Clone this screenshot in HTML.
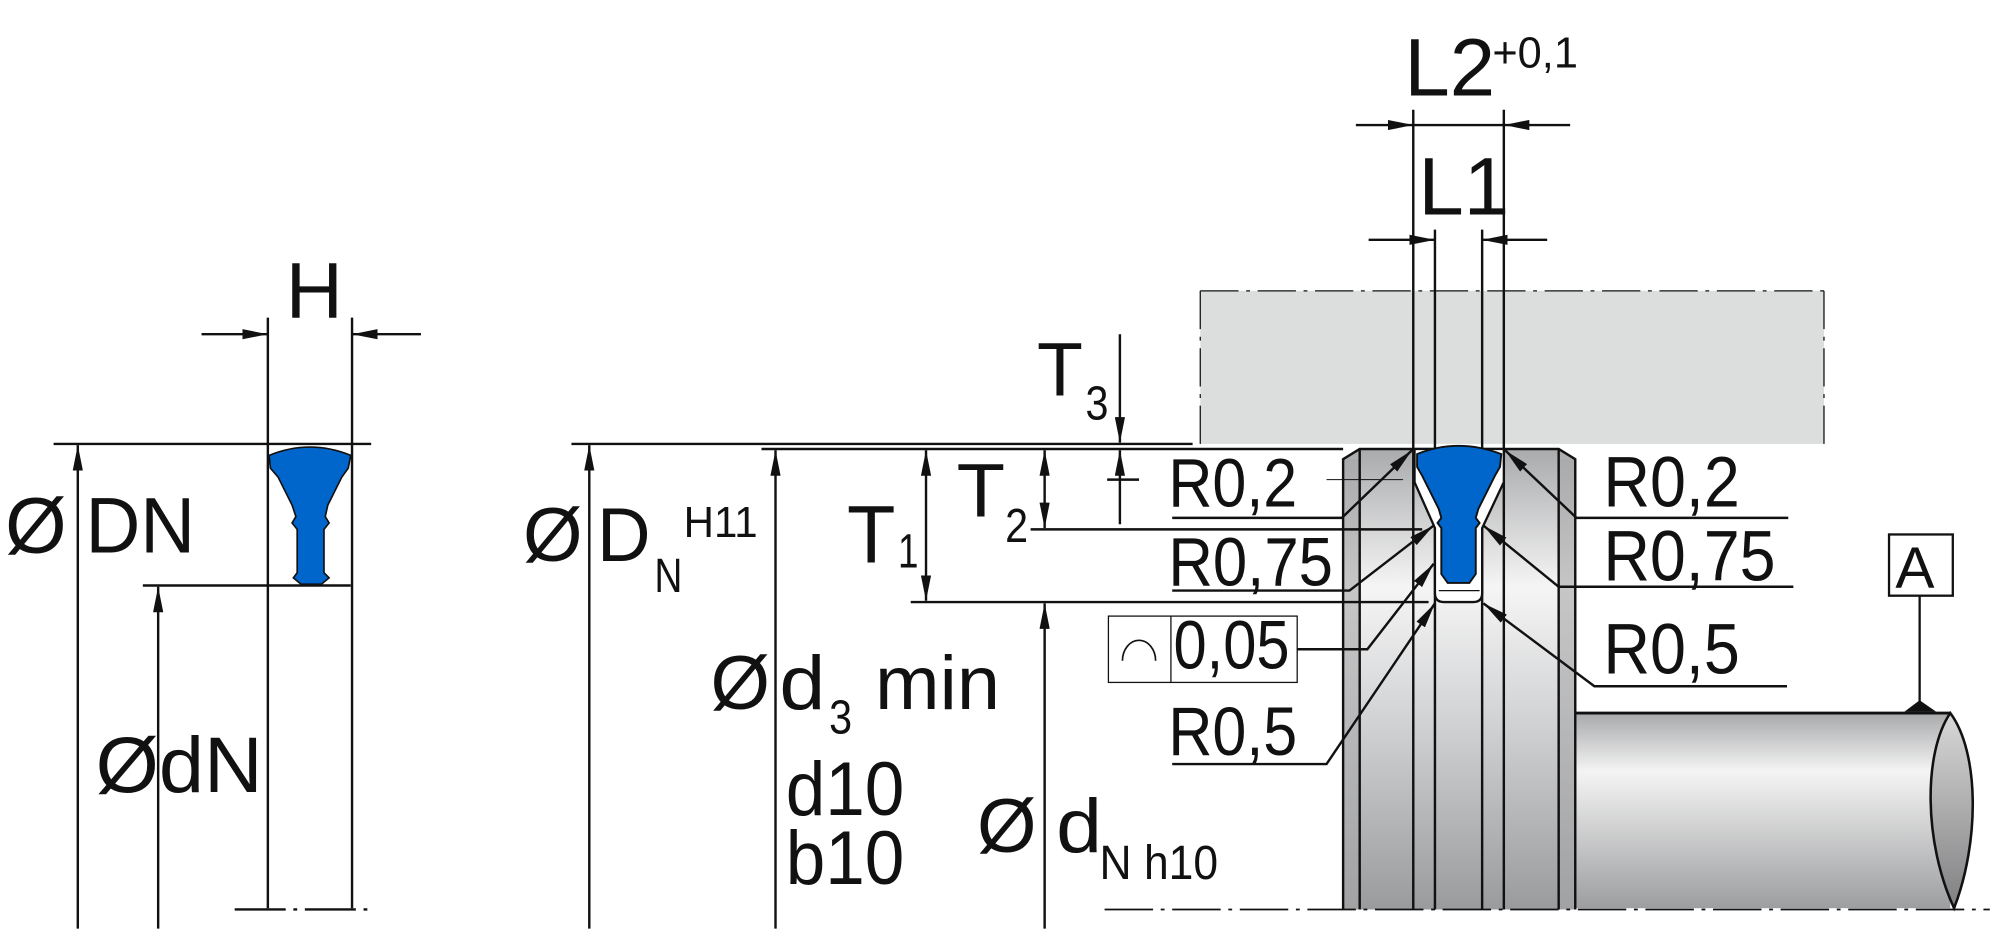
<!DOCTYPE html>
<html><head><meta charset="utf-8"><style>html,body{margin:0;padding:0;background:#fff}svg{display:block}text{font-family:"Liberation Sans",sans-serif;fill:#111}</style></head><body>
<svg width="2000" height="935" viewBox="0 0 1568 733" xmlns="http://www.w3.org/2000/svg">
<defs>
<linearGradient id="g" x1="0" y1="0" x2="0" y2="1">
<stop offset="0" stop-color="#a9aaac"/><stop offset="0.3" stop-color="#f5f5f5"/><stop offset="0.6" stop-color="#d0d1d3"/><stop offset="1" stop-color="#9a9b9d"/></linearGradient>
<linearGradient id="gs" x1="0" y1="0" x2="0" y2="1">
<stop offset="0" stop-color="#a8a9ab"/><stop offset="0.3" stop-color="#f4f4f4"/><stop offset="1" stop-color="#9d9ea0"/></linearGradient>
<linearGradient id="ge" x1="0" y1="0" x2="0" y2="1">
<stop offset="0" stop-color="#d8d8d8"/><stop offset="1" stop-color="#808082"/></linearGradient>
<marker id="a" viewBox="0 0 20 8" refX="20" refY="4" markerWidth="20" markerHeight="8" markerUnits="userSpaceOnUse" orient="auto"><path d="M0,0 L20,4 L0,8 Z" fill="#111"/></marker>
<marker id="b" viewBox="0 0 20 8" refX="0" refY="4" markerWidth="20" markerHeight="8" markerUnits="userSpaceOnUse" orient="auto"><path d="M20,0 L0,4 L20,8 Z" fill="#111"/></marker>
</defs>
<g stroke="#111" stroke-width="1.9" fill="none">
<!-- LEFT -->
<line x1="158" y1="262" x2="210" y2="262" marker-end="url(#a)"/>
<line x1="330" y1="262" x2="276" y2="262" marker-end="url(#a)"/>
<line x1="210" y1="249" x2="210" y2="712"/>
<line x1="276" y1="249" x2="276" y2="712"/>
<line x1="42" y1="348" x2="291" y2="348"/>
<line x1="112" y1="459" x2="275" y2="459"/>
<line x1="61" y1="728" x2="61" y2="349" marker-end="url(#a)"/>
<line x1="124" y1="728" x2="124" y2="460" marker-end="url(#a)"/>
<line x1="184" y1="713" x2="292" y2="713" stroke-dasharray="40 6 3 6"/>
</g>
<path d="M211,357 Q243,344 275,357 L273,367 L268,374 L257,396 L255,405 L258,410 L254,415 L254,449 L258,453 L252,458 L236,458 L230,453 L233,449 L233,415 L229,410 L232,405 L229,396 L218,374 L212,367 Z" fill="#0066cc" stroke="#111" stroke-width="1.3"/>
<text x="224" y="249" font-size="62">H</text>
<text x="4" y="433" font-size="62">Ø</text><text x="67" y="433" font-size="62" textLength="86" lengthAdjust="spacingAndGlyphs">DN</text>
<text x="75" y="621" font-size="62" textLength="131" lengthAdjust="spacingAndGlyphs">ØdN</text>

<!-- HOUSING -->
<rect x="941" y="228" width="489" height="120" fill="#dcdddd"/>
<g stroke="#111" stroke-width="1" fill="none" stroke-dasharray="30 6 3 6">
<line x1="941" y1="228" x2="1430" y2="228"/><line x1="1430" y1="228" x2="1430" y2="348"/><line x1="941" y1="228" x2="941" y2="348"/>
</g>
<!-- RINGS -->
<path d="M1053,360 L1066,352 L1222,352 L1235,360 L1235,713 L1053,713 Z" fill="url(#g)"/>
<rect x="1053" y="360" width="13" height="353" fill="#a6a7a9" opacity="0.6"/>
<rect x="1222" y="360" width="13" height="353" fill="#a6a7a9" opacity="0.6"/>
<!-- SHAFT -->
<rect x="1235" y="559" width="294" height="153" fill="url(#gs)"/>
<path d="M1529,559 C1508,590 1508,660 1532,712 C1552,660 1552,590 1529,559 Z" fill="url(#ge)" stroke="#111" stroke-width="2"/>
<line x1="1235" y1="559" x2="1529" y2="559" stroke="#111" stroke-width="2.2"/>
<path d="M1493,558 L1505,549 L1518,558 Z" fill="#111"/>
<line x1="1505" y1="467" x2="1505" y2="550" stroke="#111" stroke-width="1.8"/>
<rect x="1481" y="419" width="50" height="48" fill="#fff" stroke="#111" stroke-width="1.8"/>
<text x="1486" y="461" font-size="46">A</text>

<g stroke="#111" stroke-width="1.9" fill="none">
<path d="M1053,713 L1053,360 L1066,352 L1222,352 L1235,360 L1235,713"/>
<line x1="1066" y1="352" x2="1066" y2="713"/><line x1="1222" y1="352" x2="1222" y2="713"/>
<line x1="1108" y1="86" x2="1108" y2="713"/><line x1="1179" y1="86" x2="1179" y2="713"/>
<line x1="1125" y1="180" x2="1125" y2="713"/><line x1="1162" y1="180" x2="1162" y2="713"/>
</g>
<!-- pocket -->
<path d="M1109,352 L1109,378 L1125,414 L1125,465 Q1125,472 1132,472 L1155,472 Q1162,472 1162,465 L1162,414 L1179,378 L1179,352 Z" fill="#fff" stroke="#111" stroke-width="1.8"/>
<path d="M1111,356 Q1143,343 1177,356 L1176,366 L1172,373 L1159,399 L1157,406 L1160,410 L1157,414 L1157,450 L1152,457 L1135,457 L1130,450 L1130,414 L1127,410 L1130,406 L1128,399 L1115,373 L1111,366 Z" fill="#0066cc" stroke="#111" stroke-width="1.5"/>
<path d="M1128,463 L1160,463" stroke="#111" stroke-width="1"/>

<!-- center line -->
<line x1="866" y1="713" x2="1560" y2="713" stroke="#111" stroke-width="1.4" stroke-dasharray="38 6 3 6"/>

<g stroke="#111" stroke-width="1.9" fill="none">
<!-- L2 / L1 -->
<line x1="1063" y1="98" x2="1108" y2="98" marker-end="url(#a)"/>
<line x1="1108" y1="98" x2="1179" y2="98"/>
<line x1="1231" y1="98" x2="1179" y2="98" marker-end="url(#a)"/>
<line x1="1073" y1="188" x2="1125" y2="188" marker-end="url(#a)"/>
<line x1="1213" y1="188" x2="1162" y2="188" marker-end="url(#a)"/>
<!-- middle dims -->
<line x1="448" y1="348" x2="935" y2="348"/>
<line x1="597" y1="352" x2="1053" y2="352"/>
<line x1="808" y1="415" x2="1115" y2="415"/>
<line x1="714" y1="472" x2="1120" y2="472"/>
<line x1="462" y1="728" x2="462" y2="349" marker-end="url(#a)"/>
<line x1="608" y1="728" x2="608" y2="353" marker-end="url(#a)"/>
<line x1="726" y1="353" x2="726" y2="471" marker-start="url(#b)" marker-end="url(#a)"/>
<line x1="819" y1="353" x2="819" y2="414" marker-start="url(#b)" marker-end="url(#a)"/>
<line x1="819" y1="728" x2="819" y2="473" marker-end="url(#a)"/>
<line x1="878" y1="262" x2="878" y2="347" marker-end="url(#a)"/>
<line x1="878" y1="411" x2="878" y2="353" marker-end="url(#a)"/>
<line x1="868" y1="376" x2="893" y2="376"/>
<!-- left R leaders -->
<polyline points="919,406 1052,406 1107,353" marker-end="url(#a)"/>
<polyline points="919,463 1058,463 1124,412" marker-end="url(#a)"/>
<polyline points="1017,509 1072,509 1124,442" marker-end="url(#a)"/>
<polyline points="919,599 1040,599 1125,473" marker-end="url(#a)"/>
<!-- right R leaders -->
<polyline points="1402,406 1236,406 1180,353" marker-end="url(#a)"/>
<polyline points="1406,460 1222,460 1163,412" marker-end="url(#a)"/>
<polyline points="1401,538 1250,538 1163,473" marker-end="url(#a)"/>
</g>
<g stroke="#111" stroke-width="0.8">
<line x1="1040" y1="376" x2="1100" y2="376"/>
<line x1="1000" y1="415" x2="1110" y2="415"/>
</g>
<rect x="869" y="483" width="148" height="52" fill="#fff" stroke="#111" stroke-width="1"/>
<line x1="918" y1="483" x2="918" y2="535" stroke="#111" stroke-width="1"/>
<path d="M880,518 A13,16 0 0 1 906,518" fill="none" stroke="#111" stroke-width="1.3"/>

<!-- texts -->
<text x="1101" y="75" font-size="64">L2</text>
<text x="1170" y="53" font-size="34">+0,1</text>
<text x="1112" y="168" font-size="64">L1</text>
<text x="410" y="440" font-size="60">Ø</text>
<text x="468" y="440" font-size="60" textLength="42" lengthAdjust="spacingAndGlyphs">D</text>
<text x="513" y="464" font-size="38" textLength="22" lengthAdjust="spacingAndGlyphs">N</text>
<text x="536" y="421" font-size="34" textLength="58" lengthAdjust="spacingAndGlyphs">H11</text>
<text x="664" y="441" font-size="64" textLength="38" lengthAdjust="spacingAndGlyphs">T</text>
<text x="704" y="445" font-size="38" textLength="16" lengthAdjust="spacingAndGlyphs">1</text>
<text x="750" y="405" font-size="60" textLength="38" lengthAdjust="spacingAndGlyphs">T</text>
<text x="788" y="425" font-size="38" textLength="18" lengthAdjust="spacingAndGlyphs">2</text>
<text x="813" y="310" font-size="60" textLength="36" lengthAdjust="spacingAndGlyphs">T</text>
<text x="851" y="329" font-size="38" textLength="18" lengthAdjust="spacingAndGlyphs">3</text>
<text x="557" y="556" font-size="60">Ø</text>
<text x="611" y="556" font-size="60" textLength="36" lengthAdjust="spacingAndGlyphs">d</text>
<text x="650" y="575" font-size="38" textLength="18" lengthAdjust="spacingAndGlyphs">3</text>
<text x="686" y="556" font-size="60" textLength="98" lengthAdjust="spacingAndGlyphs">min</text>
<text x="616" y="639" font-size="60" textLength="93" lengthAdjust="spacingAndGlyphs">d10</text>
<text x="616" y="693" font-size="60" textLength="93" lengthAdjust="spacingAndGlyphs">b10</text>
<text x="766" y="668" font-size="60">Ø</text>
<text x="828" y="668" font-size="60" textLength="36" lengthAdjust="spacingAndGlyphs">d</text>
<text x="862" y="689" font-size="38" textLength="93" lengthAdjust="spacingAndGlyphs">N h10</text>
<text x="916" y="397" font-size="54" textLength="101" lengthAdjust="spacingAndGlyphs">R0,2</text>
<text x="916" y="459" font-size="54" textLength="129" lengthAdjust="spacingAndGlyphs">R0,75</text>
<text x="920" y="524" font-size="54" textLength="91" lengthAdjust="spacingAndGlyphs">0,05</text>
<text x="916" y="592" font-size="54" textLength="101" lengthAdjust="spacingAndGlyphs">R0,5</text>
<text x="1257" y="397" font-size="56" textLength="107" lengthAdjust="spacingAndGlyphs">R0,2</text>
<text x="1257" y="455" font-size="56" textLength="135" lengthAdjust="spacingAndGlyphs">R0,75</text>
<text x="1257" y="528" font-size="56" textLength="107" lengthAdjust="spacingAndGlyphs">R0,5</text>
</svg>
</body></html>
